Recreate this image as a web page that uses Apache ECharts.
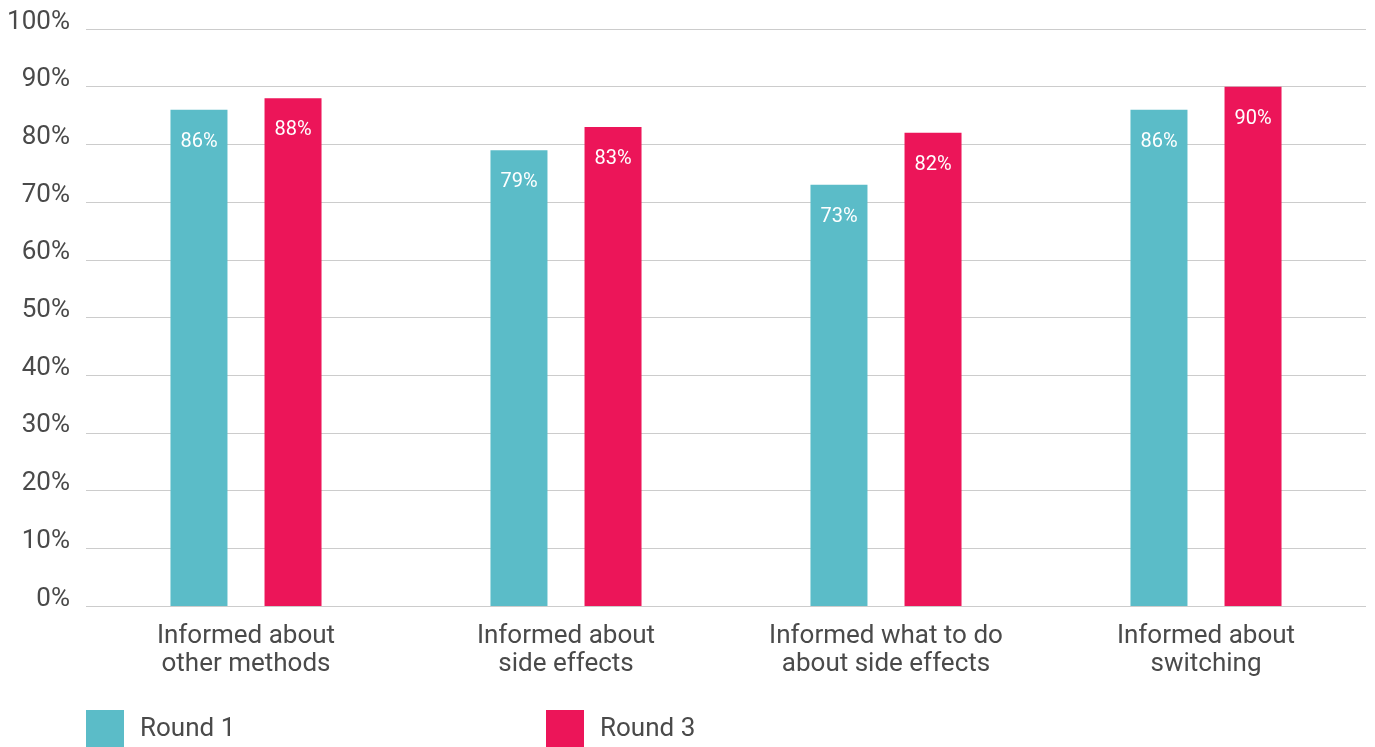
<!DOCTYPE html>
<html>
<head>
<meta charset="utf-8">
<script src="https://cdn.jsdelivr.net/npm/echarts@6/dist/echarts.min.js"></script>
<style>html,body{margin:0;padding:0;background:#fff}#c{width:1375px;height:747px}</style>
</head>
<body>
<div id="c"></div>
<script>
const categories = ['Informed about\nother methods', 'Informed about\nside effects', 'Informed what to do\nabout side effects', 'Informed about\nswitching'];
const round1 = [86, 79, 73, 86];
const round3 = [88, 83, 82, 90];
const seriesNames = ['Round 1', 'Round 3'];
const colors = ['#5bbcc8', '#ec1559'];

const chart = echarts.init(document.getElementById('c'));
const font = 'Roboto';
const txt = '#4a4a4a';
const labelCfg = {
  show: true, position: 'insideTop', distance: 22, color: '#fff',
  fontFamily: font, fontSize: 20, formatter: '{c}%'
};
const legendBase = {
  top: 710, padding: 0, itemWidth: 38, itemHeight: 38, icon: 'rect',
  textStyle: { fontFamily: font, fontSize: 26, color: txt, padding: [0, 0, 0, 11] }
};
chart.setOption({
  animation: false,
  grid: { left: 86, right: 9, top: 29, bottom: 141, containLabel: false },
  legend: [
    Object.assign({ data: [seriesNames[0]], left: 86 }, legendBase),
    Object.assign({ data: [seriesNames[1]], left: 546 }, legendBase)
  ],
  xAxis: {
    type: 'category', data: categories,
    axisLine: { show: false }, axisTick: { show: false },
    axisLabel: { fontFamily: font, fontSize: 26, color: txt, lineHeight: 28, margin: 16, interval: 0 }
  },
  yAxis: {
    type: 'value', min: 0, max: 100, interval: 10,
    axisLine: { show: false }, axisTick: { show: false },
    axisLabel: { fontFamily: font, fontSize: 26, color: txt, margin: 16, formatter: '{value}%', verticalAlign: 'bottom', lineHeight: 14 },
    splitLine: { lineStyle: { color: '#cccccc', width: 1 } }
  },
  series: [
    { name: seriesNames[0], type: 'bar', data: round1, barWidth: 57, barGap: '65%', itemStyle: { color: colors[0] }, label: labelCfg },
    { name: seriesNames[1], type: 'bar', data: round3, barWidth: 57, barGap: '65%', itemStyle: { color: colors[1] }, label: labelCfg }
  ]
});
</script>
</body>
</html>
